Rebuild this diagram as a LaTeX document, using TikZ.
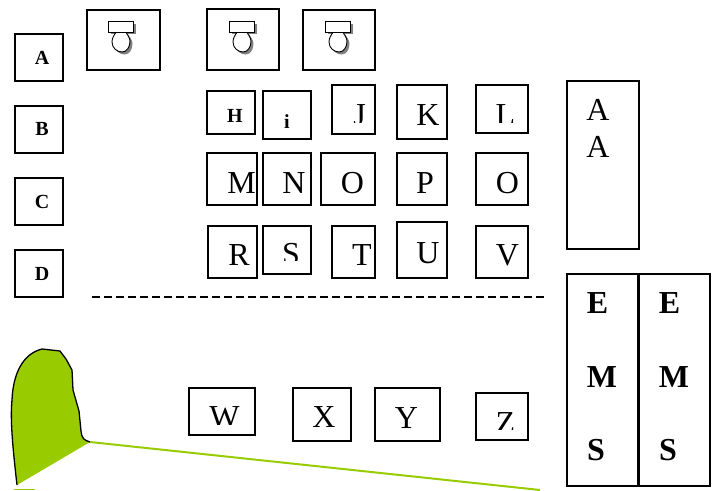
\documentclass[tikz,border=0pt]{standalone}
\usepackage{fontspec}
\setmainfont{Liberation Serif}
\definecolor{leaf}{HTML}{99CC00}
\tikzset{
  boxline/.style={draw=black,line width=1.3pt,fill=white},
  biglabel/.style={font=\fontsize{32}{32}\selectfont,anchor=base,inner sep=0pt},
  boldbig/.style={font=\fontsize{32}{32}\selectfont\bfseries,anchor=base,inner sep=0pt},
  midbold/.style={font=\fontsize{20}{20}\selectfont\bfseries,anchor=base,inner sep=0pt},
}
% box: name, x1,y1,x2,y2
\newcommand{\bx}[5]{\path[boxline] (#2,#3) rectangle (#4,#5);
  \coordinate (#1) at (#2,#3);}
% label: name, style, x, baseline, clip bottom, text
\newcommand{\lab}[6]{\begin{scope}\clip (#3-40,#4-40) rectangle (#3+40,#5);
  \node[#2] (#1) at (#3,#4) {#6};\end{scope}}
% lamp: name, left x, top y
\newcommand{\bulbpath}{(9,10) .. controls (6,14) and (4,17) .. (4,21) .. controls (4,27) and (9,31) .. (14,31) .. controls (19,31) and (22,26) .. (22,20) .. controls (22,17) and (19,13) .. (17,10)}
\newcommand{\lamp}[3]{\begin{scope}[shift={(#2,#3)}]
  \path[fill=black!50,shift={(2.5,2.5)}] \bulbpath -- cycle;
  \path[fill=black!50] (2.5,2.5) rectangle (27.5,13);
  \draw[line width=.9pt,fill=white] \bulbpath;
  \node[draw,line width=.9pt,fill=white,minimum width=25pt,minimum height=10.5pt,inner sep=0pt,anchor=north west] (#1) at (0,0) {};
  \end{scope}}
\begin{document}
\begin{tikzpicture}[x=1pt,y=-1pt]
\useasboundingbox (0,0) rectangle (719,490);
% left column
\bx{a}{15}{34}{63}{81} \bx{b}{15}{106}{63}{153} \bx{c}{15}{178}{63}{225} \bx{d}{15}{250}{63}{297}
\lab{ta}{midbold}{42}{64}{90}{A}
\lab{tb}{midbold}{42}{135}{160}{B}
\lab{tc}{midbold}{42}{208}{230}{C}
\lab{td}{midbold}{42}{280}{300}{D}
% lamp boxes
\bx{l1}{87}{10}{160}{70} \bx{l2}{207}{9}{279}{70} \bx{l3}{303}{10}{375}{70}
\lamp{la}{108}{21} \lamp{lb}{229}{21} \lamp{lc}{325}{21}
% row 1
\bx{h}{207}{91}{255}{134} \bx{i}{263}{91}{311}{139} \bx{j}{332}{85}{375}{134} \bx{k}{397}{85}{447}{139} \bx{l}{476}{85}{528}{133}
\lab{th}{midbold}{235}{122}{134}{H}
\lab{ti}{midbold}{287}{128}{139}{i}
\lab{tj}{biglabel}{359.5}{125}{122}{J}
\lab{tk}{biglabel}{428}{125}{139}{K}
\lab{tl}{biglabel}{505.5}{125}{122}{L}
% row 2
\bx{m}{207}{153}{257}{205} \bx{n}{263}{153}{311}{205} \bx{o}{321}{153}{375}{205} \bx{p}{397}{153}{447}{205} \bx{q}{476}{153}{528}{205}
\lab{tm}{biglabel}{241.5}{193.5}{205}{M}
\lab{tn}{biglabel}{294}{193.5}{205}{N}
\lab{to}{biglabel}{352.5}{193.5}{205}{O}
\lab{tp}{biglabel}{425}{193.5}{205}{P}
\lab{tq}{biglabel}{507.5}{193.5}{205}{O}
% row 3
\bx{r}{208}{226}{257}{278} \bx{s}{263}{226}{311}{274} \bx{t}{332}{226}{375}{278} \bx{u}{397}{222}{447}{278} \bx{v}{476}{226}{528}{278}
\lab{tr}{biglabel}{239}{265}{278}{R}
\lab{ts}{biglabel}{291}{264}{260.5}{S}
\lab{tt}{biglabel}{362}{265}{278}{T}
\lab{tu}{biglabel}{428}{263}{278}{U}
\lab{tv}{biglabel}{507.5}{265}{278}{V}
% tall boxes
\bx{aa}{567}{81}{639}{249}
\lab{taa}{biglabel}{598}{120}{130}{A}
\lab{tab}{biglabel}{598}{157}{170}{A}
\bx{e1}{567}{274}{638}{486} \bx{e2}{639}{274}{710}{486}
\lab{te1}{boldbig}{597.5}{313.5}{330}{E}
\lab{tm1}{boldbig}{602}{387.5}{400}{M}
\lab{ts1}{boldbig}{596}{460}{475}{S}
\lab{te2}{boldbig}{669.5}{313.5}{330}{E}
\lab{tm2}{boldbig}{674}{387.5}{400}{M}
\lab{ts2}{boldbig}{668}{460}{475}{S}
% dashed separator
\coordinate (dl) at (92,297); \coordinate (dr) at (545,297);
\draw[line width=1.2pt,dash pattern=on 8pt off 4pt] (dl) -- (dr);
% bottom row
\bx{w}{189}{388}{255}{435} \bx{x}{293}{388}{351}{441} \bx{y}{375}{388}{440}{441} \bx{z}{476}{393}{528}{440}
\lab{tw}{biglabel}{224.5}{427}{424}{W}
\lab{tx}{biglabel}{324}{427}{441}{X}
\lab{ty}{biglabel}{406.5}{428}{441}{Y}
\lab{tz}{biglabel}{505.5}{433}{429}{Z}
% green shape
\coordinate (g0) at (17,485); \coordinate (g1) at (90,442); \coordinate (g2) at (540,490);
\fill[leaf] (g0) .. controls (13,450) and (10,420) .. (12,400) .. controls (13,375) and (22,354) .. (42,349) -- (60,351) -- (66,359) -- (72,370) -- (73,390) -- (79,411) -- (81,431) .. controls (82,439) and (84,440) .. (g1) -- cycle;
\draw[line width=1.3pt,line join=round] (g0) .. controls (13,450) and (10,420) .. (12,400) .. controls (13,375) and (22,354) .. (42,349) -- (60,351) -- (66,359) -- (72,370) -- (73,390) -- (79,411) -- (81,431) .. controls (82,439) and (84,440) .. (g1);
\draw[leaf,line width=2pt] (g1) -- (g2);
\fill[leaf] (14,488.5) rectangle (35,490);
\end{tikzpicture}
\end{document}
